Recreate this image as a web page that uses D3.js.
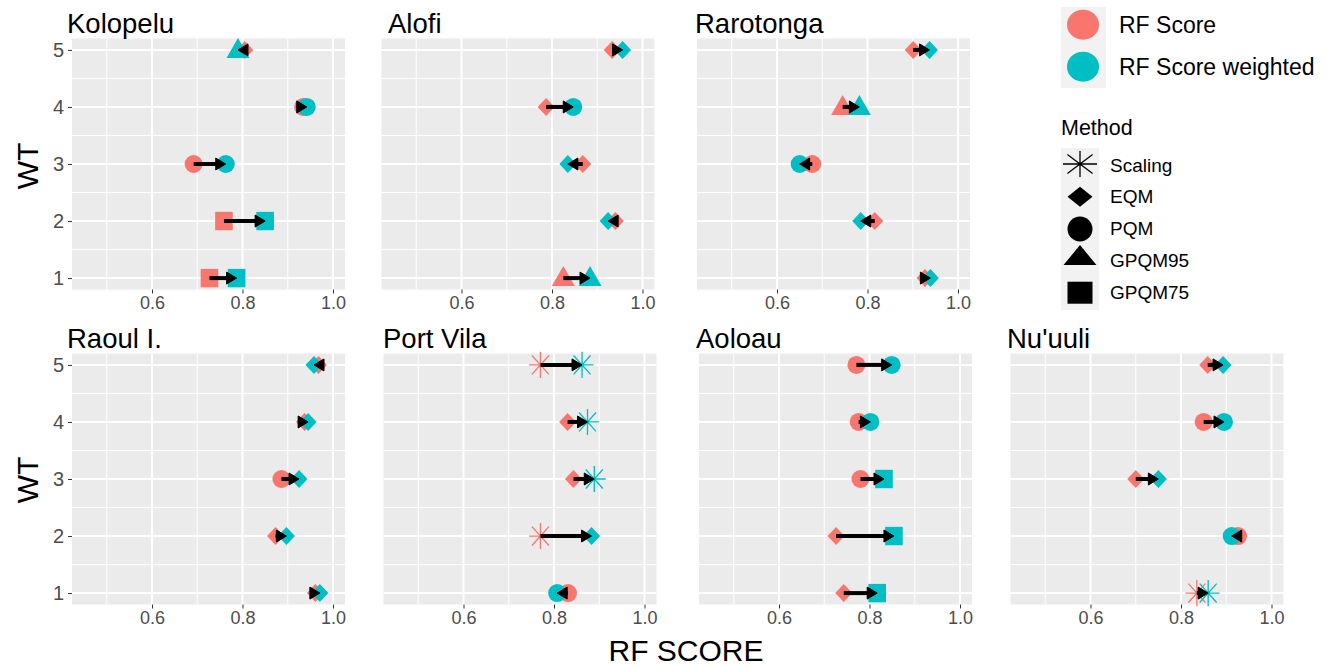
<!DOCTYPE html>
<html><head><meta charset="utf-8">
<script src="https://cdn.jsdelivr.net/npm/d3@7"></script>
<style>
body{margin:0;background:#fff}
svg{display:block}
text{font-family:"Liberation Sans",Arial,Helvetica,sans-serif}
</style>
</head><body>
<svg id="chart" width="1327" height="668"></svg>
<script>
// ---------------- data ----------------
const stations = ["Kolopelu","Alofi","Rarotonga","Raoul I.","Port Vila","Aoloau","Nu'uuli"];
const wtLevels = [1,2,3,4,5];
const xTicks = [0.6,0.8,1.0];
const xMinor = [0.5,0.7,0.9];
const yMinor = [1.5,2.5,3.5,4.5];
const methods = ["Scaling","EQM","PQM","GPQM95","GPQM75"];
const seriesNames = ["RF Score","RF Score weighted"];
const seriesColors = ["#F8766D","#00BFC4"];

// values per station, WT 1..5
const rfScore = [
  [0.727,0.759,0.692,0.934,0.805],
  [0.825,0.940,0.868,0.787,0.933],
  [0.927,0.816,0.678,0.745,0.901],
  [0.961,0.873,0.886,0.937,0.968],
  [0.831,0.770,0.843,0.830,0.770],
  [0.743,0.726,0.780,0.776,0.771],
  [0.835,0.926,0.700,0.850,0.859]
];
const rfWeighted = [
  [0.787,0.850,0.763,0.942,0.790],
  [0.884,0.924,0.835,0.847,0.956],
  [0.939,0.785,0.650,0.782,0.937],
  [0.971,0.897,0.925,0.945,0.958],
  [0.807,0.883,0.889,0.874,0.862],
  [0.817,0.854,0.832,0.802,0.849],
  [0.860,0.912,0.750,0.895,0.893]
];
const methodScore = [
  ["GPQM75","GPQM75","PQM","PQM","EQM"],
  ["GPQM95","EQM","EQM","EQM","EQM"],
  ["EQM","EQM","PQM","GPQM95","EQM"],
  ["EQM","EQM","PQM","EQM","EQM"],
  ["PQM","Scaling","EQM","EQM","Scaling"],
  ["EQM","EQM","PQM","PQM","PQM"],
  ["Scaling","PQM","EQM","PQM","EQM"]
];
const methodWeighted = [
  ["GPQM75","GPQM75","PQM","PQM","GPQM95"],
  ["GPQM95","EQM","EQM","PQM","EQM"],
  ["EQM","EQM","PQM","GPQM95","EQM"],
  ["EQM","EQM","EQM","EQM","EQM"],
  ["PQM","EQM","Scaling","Scaling","Scaling"],
  ["GPQM75","GPQM75","GPQM75","PQM","PQM"],
  ["Scaling","PQM","EQM","PQM","EQM"]
];

// ---------------- layout ----------------
const panelLeft = [72,381.5,697,72,383.5,699,1010.5];
const panelTop  = [38.5,38.5,38.5,353.5,353.5,353.5,353.5];
const titleX    = [67,388,695,67,383,696,1007];
const showYAxis = [true,false,false,true,false,false,false];
const PW = 273, PH = 251;
const xDomain = [0.4232,1.0265];
const yDomain = [0.8,5.2];

const svg = d3.select("#chart");

function shapePath(m, sx, sy){
  const p = d3.path();
  if(m==="PQM"){
    p.moveTo(sx,0); p.arc(0,0,sx,0,2*Math.PI); p.closePath();
  } else if(m==="EQM"){
    p.moveTo(0,-sy); p.lineTo(sx,0); p.lineTo(0,sy); p.lineTo(-sx,0); p.closePath();
  } else if(m==="GPQM95"){
    p.moveTo(0,-sy*1.2); p.lineTo(sx*1.15,sy*0.8); p.lineTo(-sx*1.15,sy*0.8); p.closePath();
  } else if(m==="GPQM75"){
    p.rect(-sx,-sy,2*sx,2*sy);
  } else {
    p.moveTo(-sx*1.35,0); p.lineTo(sx*1.35,0);
    p.moveTo(0,-sy*1.45); p.lineTo(0,sy*1.45);
    p.moveTo(-sx,-sy*1.05); p.lineTo(sx,sy*1.05);
    p.moveTo(-sx,sy*1.05); p.lineTo(sx,-sy*1.05);
  }
  return p.toString();
}
const symSize = {PQM:[9,9],EQM:[8.5,9],GPQM95:[10,10],GPQM75:[8.8,9.2],Scaling:[8.5,9]};

function drawMark(g, m, cx, cy, color){
  const s = symSize[m];
  const el = g.append("path").attr("d", shapePath(m, s[0], s[1])).attr("transform", `translate(${cx},${cy})`);
  if(m==="Scaling") el.attr("fill","none").attr("stroke",color).attr("stroke-width",1.3);
  else el.attr("fill",color).attr("stroke","none");
  return el;
}

stations.forEach((name,i)=>{
  const L = panelLeft[i], T = panelTop[i];
  const x = d3.scaleLinear().domain(xDomain).range([L, L+PW]);
  const y = d3.scaleLinear().domain(yDomain).range([T+PH, T]);
  const g = svg.append("g");

  g.append("rect").attr("x",L).attr("y",T).attr("width",PW).attr("height",PH).attr("fill","#EBEBEB");
  g.selectAll(".vmin").data(xMinor).join("line").attr("class","vmin")
    .attr("x1",d=>x(d)).attr("x2",d=>x(d)).attr("y1",T).attr("y2",T+PH)
    .attr("stroke","#fff").attr("stroke-width",1);
  g.selectAll(".hmin").data(yMinor).join("line").attr("class","hmin")
    .attr("y1",d=>y(d)).attr("y2",d=>y(d)).attr("x1",L).attr("x2",L+PW)
    .attr("stroke","#fff").attr("stroke-width",1);
  g.selectAll(".vmaj").data(xTicks).join("line").attr("class","vmaj")
    .attr("x1",d=>x(d)).attr("x2",d=>x(d)).attr("y1",T).attr("y2",T+PH)
    .attr("stroke","#fff").attr("stroke-width",2);
  g.selectAll(".hmaj").data(wtLevels).join("line").attr("class","hmaj")
    .attr("y1",d=>y(d)).attr("y2",d=>y(d)).attr("x1",L).attr("x2",L+PW)
    .attr("stroke","#fff").attr("stroke-width",2);

  const xa = g.append("g").attr("transform",`translate(0,${T+PH})`)
    .call(d3.axisBottom(x).tickValues(xTicks).tickFormat(d3.format(".1f")).tickSize(4).tickPadding(3));
  xa.select(".domain").remove();
  xa.selectAll(".tick line").attr("stroke","#333").attr("stroke-width",1);
  xa.selectAll(".tick text").attr("fill","#4D4D4D").style("font-size","18px")
    .style("font-family","'Liberation Sans',Arial,sans-serif");

  if(showYAxis[i]){
    const ya = g.append("g").attr("transform",`translate(${L},0)`)
      .call(d3.axisLeft(y).tickValues(wtLevels).tickFormat(d3.format("d")).tickSize(4).tickPadding(4));
    ya.select(".domain").remove();
    ya.selectAll(".tick line").attr("stroke","#333").attr("stroke-width",1);
    ya.selectAll(".tick text").attr("fill","#4D4D4D").style("font-size","20px")
      .style("font-family","'Liberation Sans',Arial,sans-serif");
  }

  g.append("text").attr("x",titleX[i]).attr("y",T-5.5).text(name)
    .attr("fill","#000").style("font-size","27.5px");

  wtLevels.forEach((wt,j)=>{
    drawMark(g, methodScore[i][j], x(rfScore[i][j]), y(wt), seriesColors[0]);
  });
  wtLevels.forEach((wt,j)=>{
    drawMark(g, methodWeighted[i][j], x(rfWeighted[i][j]), y(wt), seriesColors[1]);
  });
  wtLevels.forEach((wt,j)=>{
    const x1 = x(rfScore[i][j]), x2 = x(rfWeighted[i][j]), yy = y(wt);
    const dir = x2 >= x1 ? 1 : -1;
    const D = 10, H = 6;
    g.append("line").attr("x1",x1).attr("x2",x2 - dir*D*0.6).attr("y1",yy).attr("y2",yy)
      .attr("stroke","#000").attr("stroke-width",4);
    const p = d3.path();
    p.moveTo(x2,yy); p.lineTo(x2-dir*D,yy-H); p.lineTo(x2-dir*D,yy+H); p.closePath();
    g.append("path").attr("d",p.toString()).attr("fill","#000")
      .attr("stroke","#000").attr("stroke-width",1);
  });
});

svg.append("text").attr("transform","translate(38,166) rotate(-90)").attr("text-anchor","middle")
  .text("WT").style("font-size","30px").attr("fill","#000");
svg.append("text").attr("transform","translate(38,480) rotate(-90)").attr("text-anchor","middle")
  .text("WT").style("font-size","30px").attr("fill","#000");
svg.append("text").attr("x",686).attr("y",661).attr("text-anchor","middle")
  .text("RF SCORE").style("font-size","30px").attr("fill","#000");

const lg = svg.append("g");
lg.append("rect").attr("x",1061).attr("y",7).attr("width",45).attr("height",81).attr("fill","#F2F2F2");
const colY = [24.7,66.7];
seriesNames.forEach((n,k)=>{
  lg.append("ellipse").attr("cx",1083).attr("cy",colY[k]).attr("rx",16).attr("ry",15).attr("fill",seriesColors[k]);
  lg.append("text").attr("x",1119).attr("y",colY[k]+8).text(n).style("font-size","23px").attr("fill","#000");
});

lg.append("text").attr("x",1061).attr("y",135).text("Method").style("font-size","21.5px").attr("fill","#000");
lg.append("rect").attr("x",1061).attr("y",148).attr("width",38).attr("height",162).attr("fill","#F2F2F2");
const mY = [164,196.7,229,257,292.7];
const mTextY = [172,203,235,267,299];
const legendScale = {Scaling:[12.6,9],EQM:[12.5,10],PQM:[12.5,11],GPQM95:[14.3,10],GPQM75:[12.5,11]};
methods.forEach((m,k)=>{
  const s = legendScale[m];
  const el = lg.append("path").attr("d",shapePath(m,s[0],s[1])).attr("transform",`translate(1080,${mY[k]})`);
  if(m==="Scaling") el.attr("fill","none").attr("stroke","#000").attr("stroke-width",1.3);
  else el.attr("fill","#000");
  lg.append("text").attr("x",1110).attr("y",mTextY[k]).text(m)
    .style("font-size","19px").attr("fill","#000");
});
</script>
</body></html>
